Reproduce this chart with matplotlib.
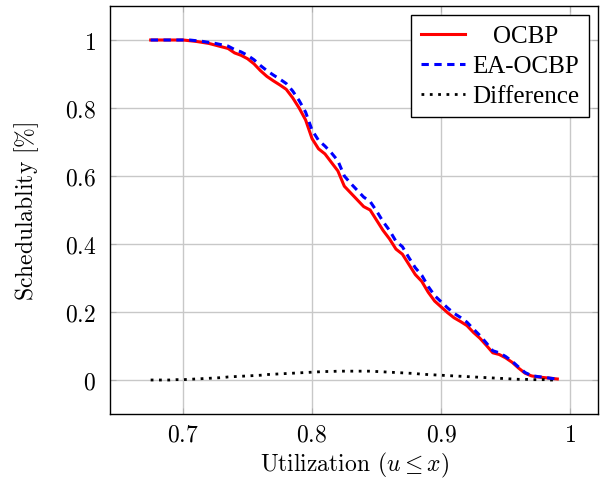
import matplotlib
matplotlib.use("Agg")
import matplotlib.pyplot as plt

x = [0.675, 0.68, 0.685, 0.69, 0.695, 0.70, 0.705, 0.71, 0.715, 0.72, 0.725, 0.73,
     0.735, 0.74, 0.745, 0.75, 0.755, 0.76, 0.765, 0.77, 0.775, 0.78, 0.785, 0.79,
     0.795, 0.80, 0.805, 0.81, 0.815, 0.82, 0.825, 0.83, 0.835, 0.84, 0.845, 0.85,
     0.855, 0.86, 0.865, 0.87, 0.875, 0.88, 0.885, 0.89, 0.895, 0.90, 0.905, 0.91,
     0.915, 0.92, 0.925, 0.93, 0.935, 0.94, 0.945, 0.95, 0.955, 0.96, 0.965, 0.97,
     0.975, 0.98, 0.985, 0.99]

ocbp = [1.0, 1.0, 1.0, 1.0, 1.0, 1.0, 0.998, 0.996, 0.993, 0.99, 0.985, 0.98,
        0.975, 0.962, 0.955, 0.945, 0.93, 0.91, 0.893, 0.88, 0.868, 0.855, 0.83, 0.80,
        0.765, 0.71, 0.68, 0.665, 0.64, 0.615, 0.57, 0.55, 0.53, 0.51, 0.50, 0.47,
        0.44, 0.415, 0.385, 0.37, 0.34, 0.31, 0.29, 0.258, 0.232, 0.215, 0.198, 0.183,
        0.172, 0.16, 0.14, 0.123, 0.102, 0.08, 0.075, 0.065, 0.052, 0.035, 0.02, 0.012,
        0.009, 0.007, 0.005, 0.003]

ea_ocbp = [1.0, 1.0, 1.0, 1.0, 1.0, 1.0, 1.0, 0.998, 0.996, 0.993, 0.99, 0.986,
           0.982, 0.972, 0.965, 0.955, 0.942, 0.925, 0.91, 0.897, 0.885, 0.872, 0.85, 0.822,
           0.788, 0.735, 0.705, 0.688, 0.668, 0.645, 0.60, 0.578, 0.558, 0.538, 0.525, 0.497,
           0.466, 0.44, 0.408, 0.392, 0.36, 0.33, 0.308, 0.275, 0.248, 0.23, 0.212, 0.196,
           0.184, 0.17, 0.15, 0.131, 0.109, 0.086, 0.08, 0.069, 0.055, 0.038, 0.022, 0.013,
           0.01, 0.008, 0.005, 0.003]

difference = [0.0, 0.0, 0.0, 0.0, 0.001, 0.001, 0.002, 0.003, 0.004, 0.005, 0.006, 0.007,
              0.009, 0.010, 0.011, 0.012, 0.013, 0.014, 0.016, 0.017, 0.018, 0.019, 0.020, 0.021,
              0.022, 0.023, 0.024, 0.025, 0.025, 0.026, 0.026, 0.026, 0.026, 0.026, 0.026, 0.025,
              0.024, 0.023, 0.022, 0.021, 0.020, 0.019, 0.017, 0.016, 0.015, 0.014, 0.013, 0.012,
              0.011, 0.010, 0.009, 0.008, 0.007, 0.006, 0.005, 0.004, 0.003, 0.002, 0.002, 0.001,
              0.001, 0.001, 0.0, 0.0]

xticks = [0.7, 0.8, 0.9, 1.0]
xticklabels = ["0.7", "0.8", "0.9", "1"]
yticks = [0, 0.2, 0.4, 0.6, 0.8, 1.0]
yticklabels = ["0", "0.2", "0.4", "0.6", "0.8", "1"]

plt.rcParams["font.family"] = ["cmr10", "DejaVu Serif"]
plt.rcParams["mathtext.fontset"] = "cm"
plt.rcParams["axes.formatter.use_mathtext"] = True

fig = plt.figure(figsize=(6.0, 4.85), dpi=100)
ax = fig.add_axes([110 / 600, 1 - 415 / 485, 488 / 600, 408 / 485])

ax.plot(x, ocbp, color="red", lw=2.2, label="OCBP", zorder=3)
ax.plot(x, ea_ocbp, color="blue", lw=2.2, ls=(0, (2.4, 1.8)), label="EA-OCBP", zorder=4)
ax.plot(x, difference, color="black", lw=2.0, ls=(0, (1, 2)), label="Difference", zorder=3)

ax.set_xlim(0.6435, 1.0215)
ax.set_ylim(-0.1, 1.1)
ax.set_xticks(xticks)
ax.set_xticklabels(["$" + t + "$" for t in xticklabels])
ax.set_yticks(yticks)
ax.set_yticklabels(["$" + t + "$" for t in yticklabels])
ax.tick_params(axis="both", direction="in", labelsize=17, length=4, color="#b0b0b0",
               top=True, right=True)
ax.tick_params(axis="x", pad=7)
ax.tick_params(axis="y", pad=10)
ax.grid(True, color="#c8c8c8", lw=1.0)
ax.set_axisbelow(True)
for s in ax.spines.values():
    s.set_linewidth(1.0)
    s.set_color("black")

ax.set_xlabel(r"Utilization ($u \leq x$)", fontsize=17, labelpad=3)
ax.set_ylabel(r"Schedulablity $[\%]$", fontsize=17, labelpad=17)

leg = ax.legend(loc="upper right", frameon=True, fancybox=False,
                prop={"family": ["Liberation Serif"], "size": 18},
                edgecolor="black", framealpha=1.0, handlelength=1.75, handletextpad=0.3,
                borderpad=0.4, labelspacing=0.3, borderaxespad=0.35)
leg.get_frame().set_linewidth(1.0)

fig.canvas.draw()
r = fig.canvas.get_renderer()
texts = leg.get_texts()
widths = [t.get_window_extent(r).width for t in texts]
wmax = max(widths)
for t, w in zip(texts, widths):
    t.set_x((wmax - w) / 2)

fig.savefig("out.png", dpi=100)
